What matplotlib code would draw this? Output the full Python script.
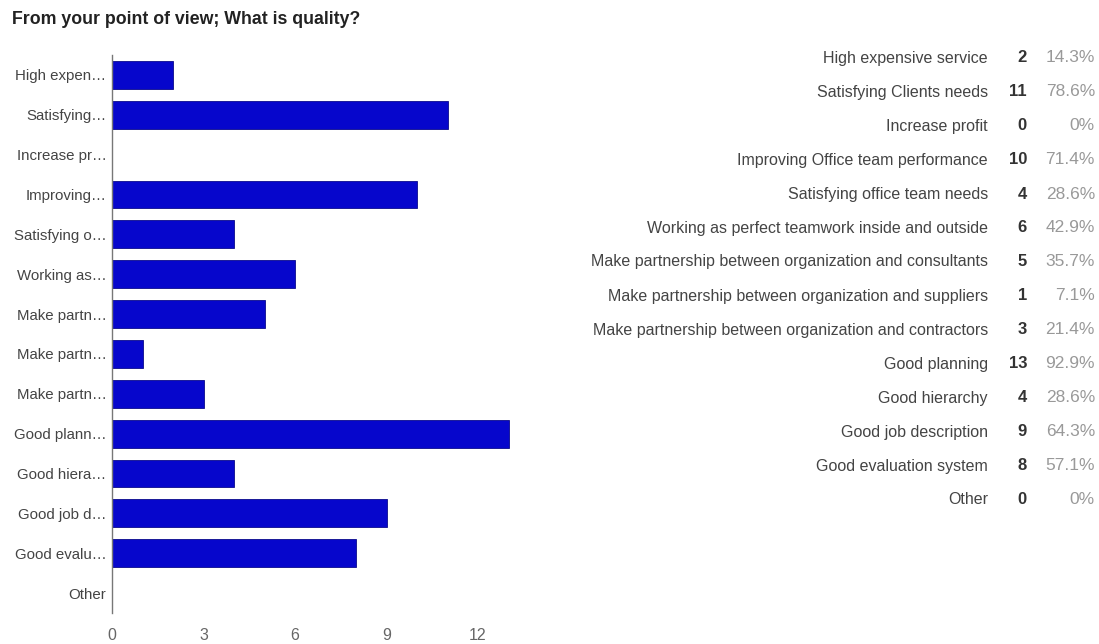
import matplotlib.pyplot as plt

# answers, short labels and counts
answers = ["High expensive service", "Satisfying Clients needs", "Increase profit",
           "Improving Office team performance", "Satisfying office team needs",
           "Working as perfect teamwork inside and outside",
           "Make partnership between organization and consultants",
           "Make partnership between organization and suppliers",
           "Make partnership between organization and contractors",
           "Good planning", "Good hierarchy", "Good job description",
           "Good evaluation system", "Other"]
short_labels = ["High expen\u2026", "Satisfying\u2026", "Increase pr\u2026", "Improving\u2026",
                "Satisfying o\u2026", "Working as\u2026", "Make partn\u2026", "Make partn\u2026",
                "Make partn\u2026", "Good plann\u2026", "Good hiera\u2026", "Good job d\u2026",
                "Good evalu\u2026", "Other"]
counts = [2, 11, 0, 10, 4, 6, 5, 1, 3, 13, 4, 9, 8, 0]
percents = ["14.3%", "78.6%", "0%", "71.4%", "28.6%", "42.9%", "35.7%", "7.1%",
            "21.4%", "92.9%", "28.6%", "64.3%", "57.1%", "0%"]
xticks = [0, 3, 6, 9, 12]

plt.rcParams['font.family'] = ['Liberation Sans', 'DejaVu Sans']

W, H = 1099, 644
fig = plt.figure(figsize=(W / 100, H / 100), dpi=100)

fig.text(12 / W, 1 - 20 / H, "From your point of view; What is quality?",
         fontsize=12.8, fontweight='bold', color='#222222', va='center', ha='left')

# bar chart
ax = fig.add_axes([112 / W, 1 - 613 / H, 424 / W, 558 / H])
ypos = list(range(len(counts)))
ax.barh(ypos, counts, height=0.7, color='#0606cc', edgecolor='#0a0a8c', linewidth=0.6)
ax.set_ylim(len(counts) - 0.5, -0.5)
ax.set_xlim(0, 13.9)
ax.set_yticks(ypos)
ax.set_yticklabels(short_labels, fontsize=10.8, color='#444444')
ax.set_xticks(xticks)
ax.set_xticklabels([str(t) for t in xticks], fontsize=11.5, color='#666666')
ax.tick_params(axis='both', length=0, pad=4)
ax.tick_params(axis='x', pad=11)
for s in ['top', 'right', 'bottom']:
    ax.spines[s].set_visible(False)
ax.spines['left'].set_color('#777777')
ax.spines['left'].set_linewidth(1)

# summary table on the right
row0 = 58
step = 34
for i, (a, c, p) in enumerate(zip(answers, counts, percents)):
    y = 1 - (row0 + i * step) / H
    fig.text(988 / W, y, a, ha='right', va='center', fontsize=11.5, color='#444444')
    fig.text(1027 / W, y, str(c), ha='right', va='center', fontsize=12,
             color='#333333', fontweight='bold')
    fig.text(1095 / W, y, p, ha='right', va='center', fontsize=12.5, color='#999999')

fig.savefig('out.png', dpi=100, facecolor='white')
